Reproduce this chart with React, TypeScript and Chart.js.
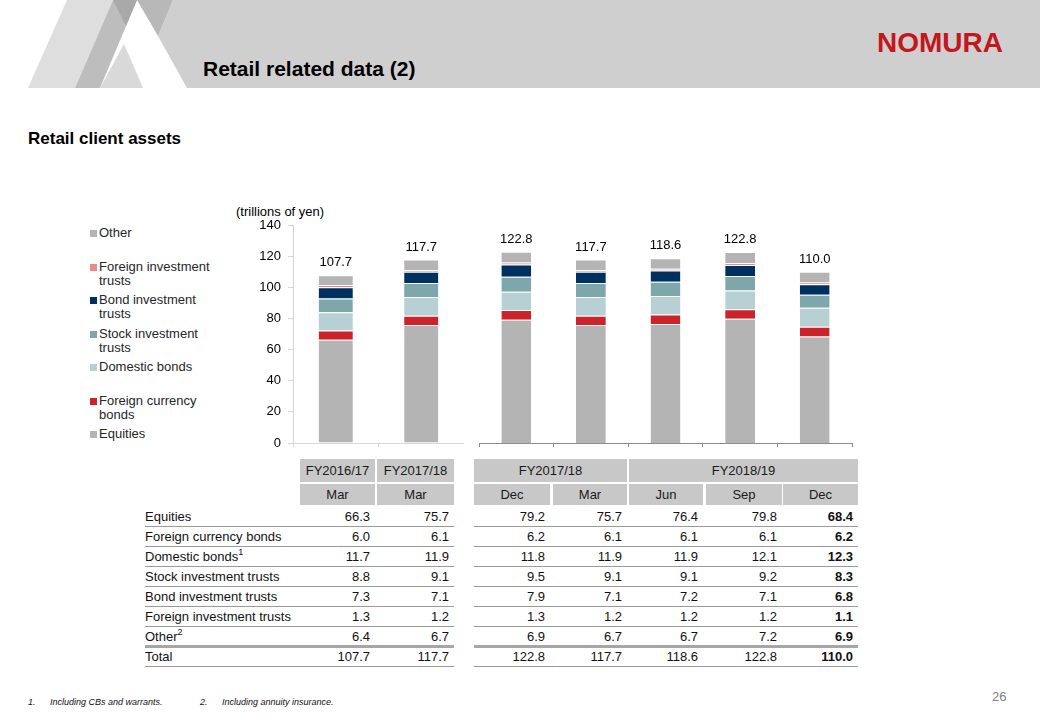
import React, { useEffect, useRef } from "react";
import { Chart, registerables } from "chart.js";

Chart.register(...registerables);

const FONT = '"Liberation Sans", Arial, Helvetica, sans-serif';

// ---------- data ----------
const MONTHS = ["Mar", "Mar", "Dec", "Mar", "Jun", "Sep", "Dec"];
const FISCAL_LEFT = ["FY2016/17", "FY2017/18"];
const FISCAL_RIGHT = ["FY2017/18", "FY2018/19"];
const EQUITIES = [66.3, 75.7, 79.2, 75.7, 76.4, 79.8, 68.4];
const FOREIGN_CURRENCY_BONDS = [6.0, 6.1, 6.2, 6.1, 6.1, 6.1, 6.2];
const DOMESTIC_BONDS = [11.7, 11.9, 11.8, 11.9, 11.9, 12.1, 12.3];
const STOCK_INVESTMENT_TRUSTS = [8.8, 9.1, 9.5, 9.1, 9.1, 9.2, 8.3];
const BOND_INVESTMENT_TRUSTS = [7.3, 7.1, 7.9, 7.1, 7.2, 7.1, 6.8];
const FOREIGN_INVESTMENT_TRUSTS = [1.3, 1.2, 1.3, 1.2, 1.2, 1.2, 1.1];
const OTHER = [6.4, 6.7, 6.9, 6.7, 6.7, 7.2, 6.9];
const TOTALS = [107.7, 117.7, 122.8, 117.7, 118.6, 122.8, 110.0];
const Y_MIN = 0;
const Y_MAX = 140;
const Y_STEP = 20;

const SERIES = [
  { name: "Equities", table: "Equities", sup: "", values: EQUITIES, color: "#b4b4b4" },
  { name: "Foreign currency bonds", table: "Foreign currency bonds", sup: "", values: FOREIGN_CURRENCY_BONDS, color: "#cc2229" },
  { name: "Domestic bonds", table: "Domestic bonds", sup: "1", values: DOMESTIC_BONDS, color: "#b7d0d4" },
  { name: "Stock investment trusts", table: "Stock investment trusts", sup: "", values: STOCK_INVESTMENT_TRUSTS, color: "#7ea7ab" },
  { name: "Bond investment trusts", table: "Bond investment trusts", sup: "", values: BOND_INVESTMENT_TRUSTS, color: "#00305f" },
  { name: "Foreign investment trusts", table: "Foreign investment trusts", sup: "", values: FOREIGN_INVESTMENT_TRUSTS, color: "#e8898a" },
  { name: "Other", table: "Other", sup: "2", values: OTHER, color: "#b4b4b4" },
];

// ---------- chart helpers ----------
function totalsPlugin(totals: number[]) {
  return {
    id: "totals",
    afterDatasetsDraw(chart: any) {
      const ctx = chart.ctx;
      const meta = chart.getDatasetMeta(chart.data.datasets.length - 1);
      ctx.save();
      ctx.font = `13px ${FONT}`;
      ctx.fillStyle = "#000";
      ctx.textAlign = "center";
      ctx.textBaseline = "bottom";
      meta.data.forEach((el: any, i: number) => {
        ctx.fillText(totals[i].toFixed(1), el.x, el.y - 6);
      });
      ctx.restore();
    },
  };
}

function makeConfig(from: number, to: number, showY: boolean, axisColor: string, padding: any) {
  return {
    type: "bar" as const,
    data: {
      labels: MONTHS.slice(from, to),
      datasets: SERIES.map((s) => ({
        label: s.name,
        data: s.values.slice(from, to),
        backgroundColor: s.color,
        borderColor: "rgba(255,255,255,0.55)",
        borderWidth: { top: 1, right: 0, bottom: 0, left: 0 },
        borderSkipped: false,
        categoryPercentage: 1,
        barPercentage: 0.4,
        stack: "s",
      })),
    },
    options: {
      animation: false as const,
      responsive: false,
      maintainAspectRatio: false,
      layout: { padding },
      plugins: { legend: { display: false }, tooltip: { enabled: false } },
      scales: {
        x: {
          stacked: true,
          offset: true,
          grid: { display: true, offset: true, drawOnChartArea: false, drawTicks: true, tickLength: 4, color: axisColor },
          border: { display: true, color: axisColor },
          ticks: { display: false },
          afterFit: (s: any) => {
            s.height = 17;
          },
        },
        y: {
          display: showY,
          stacked: true,
          min: Y_MIN,
          max: Y_MAX,
          ticks: { stepSize: Y_STEP, font: { family: FONT, size: 13 }, color: "#000", padding: 7 },
          grid: { display: true, drawOnChartArea: false, drawTicks: true, tickLength: 5, color: "#d4d4d4" },
          border: { display: true, color: "#d4d4d4" },
          afterFit: (s: any) => {
            s.width = showY ? 93 : 0;
          },
        },
      },
    },
    plugins: [totalsPlugin(TOTALS.slice(from, to))],
  };
}

function BarChart(props: { from: number; to: number; showY: boolean; axisColor: string; padding: any; left: number; top: number; width: number; height: number }) {
  const ref = useRef<HTMLCanvasElement | null>(null);
  useEffect(() => {
    if (!ref.current) return;
    const chart = new Chart(ref.current, makeConfig(props.from, props.to, props.showY, props.axisColor, props.padding) as any);
    return () => chart.destroy();
  }, []);
  return (
    <canvas
      ref={ref}
      width={props.width}
      height={props.height}
      style={{ position: "absolute", left: props.left, top: props.top, width: props.width, height: props.height }}
    />
  );
}

// ---------- layout ----------
const COL_X = [300, 377, 474, 553, 629, 706, 783];
const COL_W = [75, 77, 76, 74, 74, 76, 75];
const ROW_TOP = 507;
const ROW_H = 20;

function Header() {
  return (
    <>
      <svg width={1040} height={88} style={{ position: "absolute", left: 0, top: 0 }}>
        <polygon points="173,0 1040,0 1040,88 187,88 158,36" fill="#cfcfcf" />
        <polygon points="28,88 75,88 113,0 67,0" fill="#dedede" />
        <polygon points="75,88 100,88 137,0 113,0" fill="#bdbdbd" />
        <polygon points="100,88 143,88 124,44" fill="#d9d9d9" />
        <polygon points="113,0 137,0 126,26" fill="#a9a9a9" />
        <polygon points="137,0 173,0 158,36" fill="#b8b8b8" />
      </svg>
      <div style={{ position: "absolute", left: 203, top: 56, font: `bold 21px ${FONT}`, color: "#000", lineHeight: "26px" }}>
        Retail related data (2)
      </div>
      <div
        style={{
          position: "absolute",
          left: 877,
          top: 27,
          font: `bold 28px ${FONT}`,
          color: "#c4161c",
          lineHeight: "32px",
          letterSpacing: "0px",
        }}
      >
        NOMURA
      </div>
      <div style={{ position: "absolute", left: 28, top: 128, font: `bold 17px ${FONT}`, color: "#000", lineHeight: "22px" }}>
        Retail client assets
      </div>
    </>
  );
}

function Legend() {
  const items = [...SERIES].reverse();
  return (
    <>
      {items.map((s, i) => {
        const top = 226 + 33.5 * i;
        return (
          <div key={s.name} style={{ position: "absolute", left: 90, top }}>
            <div style={{ position: "absolute", left: 0, top: 4, width: 7, height: 7, background: s.color }} />
            <div style={{ position: "absolute", left: 9, top: 0, width: 125, font: `13px ${FONT}`, lineHeight: "14px", color: "#262626" }}>
              {s.name}
            </div>
          </div>
        );
      })}
    </>
  );
}

function HeaderCell(props: { x: number; w: number; top: number; h: number; text: string }) {
  return (
    <div
      style={{
        position: "absolute",
        left: props.x,
        top: props.top,
        width: props.w,
        height: props.h,
        background: "#c8c8c8",
        font: `13px ${FONT}`,
        lineHeight: `${props.h}px`,
        textAlign: "center",
        color: "#1a1a1a",
      }}
    >
      {props.text}
    </div>
  );
}

function DataTable() {
  const rows = [
    ...SERIES.map((s) => ({ label: s.table, sup: s.sup, values: s.values })),
    { label: "Total", sup: "", values: TOTALS },
  ];
  const els: any[] = [];
  FISCAL_LEFT.forEach((t, i) => els.push(<HeaderCell key={"f" + i} x={COL_X[i]} w={COL_W[i]} top={459} h={23} text={t} />));
  els.push(<HeaderCell key="fr0" x={COL_X[2]} w={COL_X[3] + COL_W[3] - COL_X[2]} top={459} h={23} text={FISCAL_RIGHT[0]} />);
  els.push(<HeaderCell key="fr1" x={COL_X[4]} w={COL_X[6] + COL_W[6] - COL_X[4]} top={459} h={23} text={FISCAL_RIGHT[1]} />);
  MONTHS.forEach((m, i) => els.push(<HeaderCell key={"m" + i} x={COL_X[i]} w={COL_W[i]} top={484} h={21} text={m} />));
  rows.forEach((r, ri) => {
    const top = ROW_TOP + ROW_H * ri;
    els.push(
      <div key={"l" + ri} style={{ position: "absolute", left: 145, top, height: ROW_H, font: `13px ${FONT}`, lineHeight: `${ROW_H}px`, color: "#111", whiteSpace: "nowrap" }}>
        {r.label}
        {r.sup ? <sup style={{ fontSize: "9px", lineHeight: 0, verticalAlign: "6px" }}>{r.sup}</sup> : null}
      </div>
    );
    r.values.forEach((v, ci) => {
      els.push(
        <div
          key={"v" + ri + "_" + ci}
          style={{
            position: "absolute",
            left: COL_X[ci],
            width: COL_W[ci] - 5,
            top,
            height: ROW_H,
            font: `${ci === 6 ? "bold " : ""}13px ${FONT}`,
            lineHeight: `${ROW_H}px`,
            textAlign: "right",
            color: "#111",
          }}
        >
          {v.toFixed(1)}
        </div>
      );
    });
    const thick = ri === rows.length - 2;
    const lineTop = thick ? top + 18 : top + 19;
    const lineH = thick ? 3 : 1;
    const col = thick ? "#a6a6a6" : "#9a9a9a";
    els.push(<div key={"bl" + ri} style={{ position: "absolute", left: 145, top: lineTop, width: 309, height: lineH, background: col }} />);
    els.push(<div key={"br" + ri} style={{ position: "absolute", left: 474, top: lineTop, width: 384, height: lineH, background: col }} />);
  });
  return <>{els}</>;
}

export default function App() {
  return (
    <div style={{ position: "absolute", left: 0, top: 0, width: 1040, height: 720, background: "#fff", overflow: "hidden", fontFamily: FONT }}>
      <Header />
      <Legend />
      <div style={{ position: "absolute", left: 236, top: 204, font: `13px ${FONT}`, lineHeight: "16px", color: "#000" }}>(trillions of yen)</div>
      <BarChart from={0} to={2} showY={true} axisColor="#d9d9d9" padding={{ top: 30, left: 0, right: 0, bottom: 0 }} left={200} top={195} width={264} height={265} />
      <BarChart from={2} to={7} showY={false} axisColor="#8c8c8c" padding={{ top: 30, left: 9, right: 8, bottom: 0 }} left={470} top={195} width={390} height={265} />
      <DataTable />
      <div style={{ position: "absolute", left: 28, top: 697, font: `italic 9px ${FONT}`, color: "#111", whiteSpace: "nowrap" }}>1.</div>
      <div style={{ position: "absolute", left: 50, top: 697, font: `italic 9px ${FONT}`, color: "#111", whiteSpace: "nowrap" }}>Including CBs and warrants.</div>
      <div style={{ position: "absolute", left: 200, top: 697, font: `italic 9px ${FONT}`, color: "#111", whiteSpace: "nowrap" }}>2.</div>
      <div style={{ position: "absolute", left: 222, top: 697, font: `italic 9px ${FONT}`, color: "#111", whiteSpace: "nowrap" }}>Including annuity insurance.</div>
      <div style={{ position: "absolute", left: 992, top: 689, font: `13px ${FONT}`, color: "#808080" }}>26</div>
    </div>
  );
}
